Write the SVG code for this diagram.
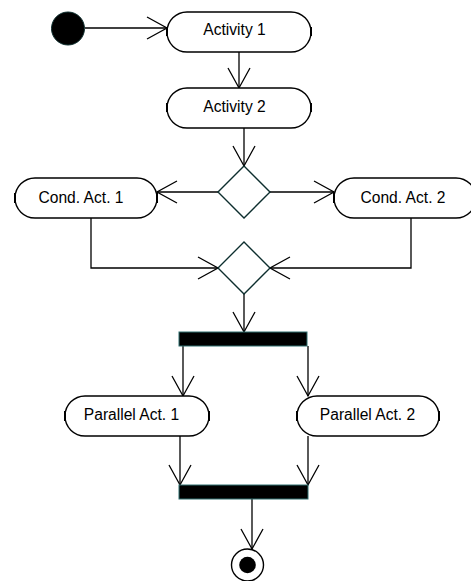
<svg xmlns="http://www.w3.org/2000/svg" width="471" height="581" viewBox="0 0 471 581">
  <style>
    .act { fill: #ffffff; stroke: #000000; stroke-width: 1.4; }
    .tick { fill: #000000; }
    .lbl { font-family: "Liberation Sans", Arial, sans-serif; font-size: 15.6px; fill: #000000; text-anchor: middle; }
    .dec { fill: #ffffff; stroke: #0d2e2e; stroke-width: 1.4; }
    .bar { fill: #000000; stroke: #2f6f6f; stroke-width: 1; }
    .conn { fill: none; stroke: #000000; stroke-width: 1.3; marker-end: url(#open); }
  </style>
  <defs>
    <marker id="open" markerUnits="userSpaceOnUse" markerWidth="24" markerHeight="26" refX="21" refY="12" orient="auto">
      <path d="M1,1 L21,12 L1,23" fill="none" stroke="#000000" stroke-width="1.3"/>
    </marker>
  </defs>

  <g id="connectors">
    <path class="conn" d="M85,28 H167"/>
    <path class="conn" d="M239,52 V88"/>
    <path class="conn" d="M244,128 V166"/>
    <path class="conn" d="M218,192 H157"/>
    <path class="conn" d="M270,192 H334"/>
    <path class="conn" d="M91,218 V268 H218"/>
    <path class="conn" d="M411,218 V268 H270"/>
    <path class="conn" d="M244,294 V332"/>
    <path class="conn" d="M183,346 V396"/>
    <path class="conn" d="M308,346 V396"/>
    <path class="conn" d="M180,436 V485"/>
    <path class="conn" d="M308,436 V485"/>
    <path class="conn" d="M252,499 V549"/>
  </g>

  <g id="start">
    <circle cx="68" cy="28.5" r="16.5" fill="#000000" stroke="#0d2e2e" stroke-width="1"/>
  </g>

  <g id="activity1">
    <rect class="act" x="167" y="12" width="144" height="40" rx="20" ry="20"/>
    <rect class="tick" x="166" y="27" width="2" height="9"/>
    <rect class="tick" x="310" y="27" width="2" height="9"/>
    <text class="lbl" x="234.5" y="35">Activity 1</text>
  </g>

  <g id="activity2">
    <rect class="act" x="167" y="88" width="144" height="40" rx="20" ry="20"/>
    <rect class="tick" x="166" y="103" width="2" height="9"/>
    <rect class="tick" x="310" y="103" width="2" height="9"/>
    <text class="lbl" x="234.5" y="112">Activity 2</text>
  </g>

  <g id="decision">
    <polygon class="dec" points="244,166 270,192 244,218 218,192"/>
  </g>

  <g id="cond1">
    <rect class="act" x="15" y="178" width="142" height="40" rx="20" ry="20"/>
    <rect class="tick" x="14" y="193" width="2" height="10"/>
    <rect class="tick" x="156" y="193" width="2" height="10"/>
    <text class="lbl" x="81" y="203">Cond. Act. 1</text>
  </g>

  <g id="cond2">
    <rect class="act" x="334" y="178" width="142" height="40" rx="20" ry="20"/>
    <rect class="tick" x="333" y="193" width="2" height="10"/>
    <text class="lbl" x="403" y="203">Cond. Act. 2</text>
  </g>

  <g id="merge">
    <polygon class="dec" points="244,242 270,268 244,294 218,268"/>
  </g>

  <g id="fork">
    <rect class="bar" x="179" y="332" width="128" height="14"/>
  </g>

  <g id="parallel1">
    <rect class="act" x="65" y="396" width="144" height="40" rx="20" ry="20"/>
    <rect class="tick" x="64" y="411" width="2" height="10"/>
    <rect class="tick" x="208" y="411" width="2" height="10"/>
    <text class="lbl" x="131.5" y="420">Parallel Act. 1</text>
  </g>

  <g id="parallel2">
    <rect class="act" x="297" y="396" width="142" height="40" rx="20" ry="20"/>
    <rect class="tick" x="296" y="411" width="2" height="10"/>
    <rect class="tick" x="438" y="411" width="2" height="10"/>
    <text class="lbl" x="367.5" y="420">Parallel Act. 2</text>
  </g>

  <g id="join">
    <rect class="bar" x="179" y="485" width="129" height="14"/>
  </g>

  <g id="end">
    <circle cx="247.5" cy="565" r="16" fill="#ffffff" stroke="#000000" stroke-width="1.4"/>
    <circle cx="247.5" cy="565" r="8.3" fill="#000000"/>
  </g>
</svg>
